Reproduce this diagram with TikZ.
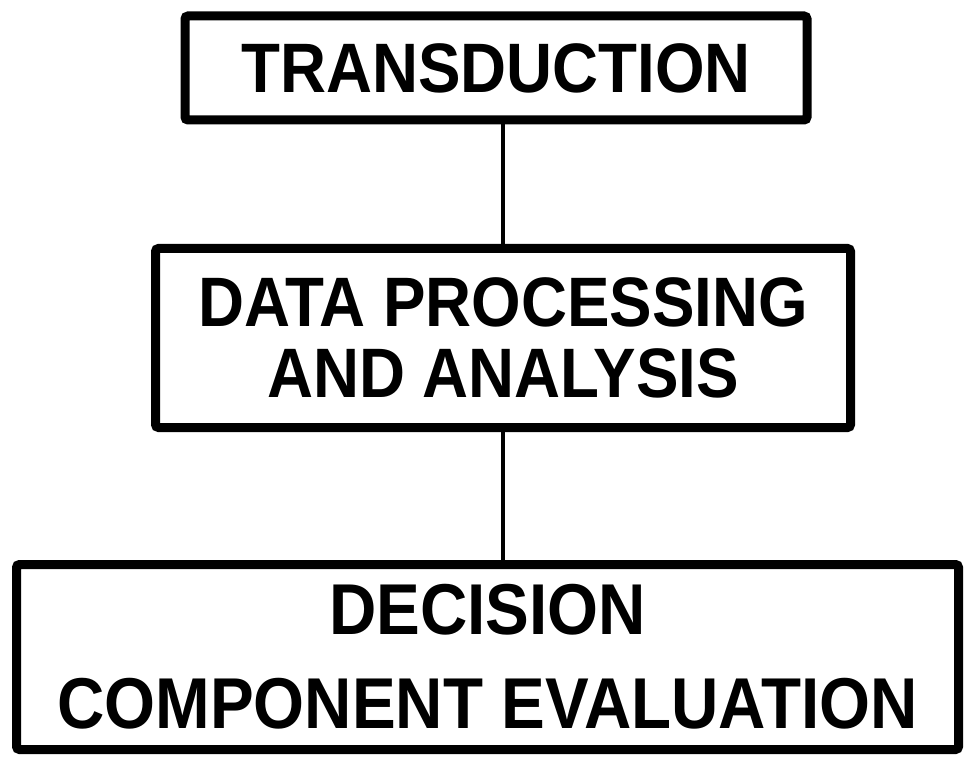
\documentclass[tikz,border=0pt]{standalone}
\usepackage{fontspec}
\setmainfont{Liberation Sans}[FakeStretch=0.91]
\usepackage{tikz}

\tikzset{
	stage/.style={draw, line width=4.5pt, rounded corners=1.5pt, inner sep=0pt, align=center,
		font=\bfseries\fontsize{35}{35.5}\selectfont},
	link/.style={line width=2pt}
}

\begin{document}
\begin{tikzpicture}[x=0.5pt, y=-0.5pt]

	\useasboundingbox (0,0) rectangle (967,758);

	% the three stages
	\node[stage, minimum width=311pt, minimum height=52pt] (trans) at (496,68) {TRANSDUCTION};
	\node[stage, minimum width=347.5pt, minimum height=89.5pt] (data) at (503,338) {DATA PROCESSING\\AND ANALYSIS};
	\node[stage, minimum width=471pt, minimum height=92.5pt, font=\bfseries\fontsize{36}{36}\selectfont] (dec) at (487.5,657) {DECISION\\[11pt]COMPONENT EVALUATION};

	% vertical links
	\draw[link] (data.north) -- (data.north |- trans.south);
	\draw[link] (data.south) -- (data.south |- dec.north);

\end{tikzpicture}
\end{document}
